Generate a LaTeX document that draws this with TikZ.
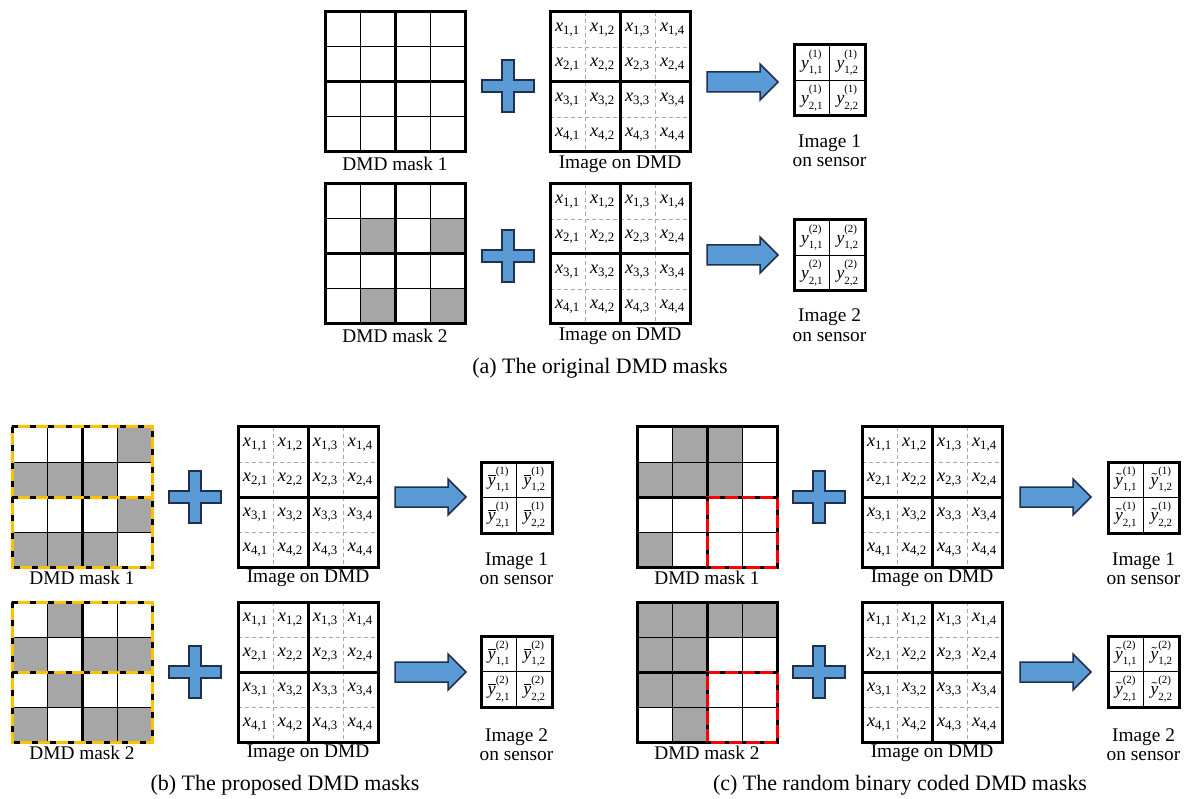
\documentclass[tikz,border=0pt]{standalone}
\usepackage{fontspec}
\setmainfont{Liberation Serif}
\definecolor{plusblue}{HTML}{5B9BD5}
\definecolor{plusedge}{HTML}{1F2F4F}
\definecolor{maskgray}{HTML}{A6A6A6}
\definecolor{ygold}{HTML}{FFC000}
\definecolor{gridgray}{HTML}{A8A8A8}
\tikzset{
  thinl/.style={line width=0.6pt, draw=black},
  thickl/.style={line width=1.8pt, draw=black, line cap=rect},
  dashl/.style={line width=0.5pt, draw=gridgray, dash pattern=on 2.4pt off 1.8pt},
  goldl/.style={line width=1.8pt, draw=ygold},
  redl/.style={line width=1.8pt, draw=red},
  blackdash/.style={line width=1.8pt, draw=black, dash pattern=on 3.6pt off 7.2pt},
  blueshape/.style={fill=plusblue, draw=plusedge, line width=0.9pt, line join=miter},
  lbl/.style={font=\fontsize{11.6}{13}\selectfont, inner sep=0pt},
  captxt/.style={font=\fontsize{13.2}{15}\selectfont, inner sep=0pt},
  xcell/.style={font=\fontsize{11}{12}\selectfont, inner sep=0pt},
  ycell/.style={font=\fontsize{10.5}{11}\selectfont, inner sep=0pt},
}
\newcommand\scr{\fontsize{6.6}{7}\selectfont}
\newcommand\ysym[4]{#1\rlap{\raisebox{0.62em}{\scr(#2)}}\raisebox{-0.32em}{\scr #3,#4}}
\newcommand\yplain{{\itshape y}}
\newcommand\ybar{$\overline{\mbox{\itshape y}}$}
\newcommand\ytil{$\tilde{\mbox{\itshape y}}$}
\newcommand\GrayCells[3]{\foreach \c/\r in {#3} {\fill[maskgray] (#1+35*\c-35,#2+35*\r-35) rectangle (#1+35*\c,#2+35*\r);}}
\newcommand\MaskLines[2]{\foreach \i in {1,3} {
    \draw[thinl] (#1+35*\i,#2) -- (#1+35*\i,#2+140);
    \draw[thinl] (#1,#2+35*\i) -- (#1+140,#2+35*\i);}}
\newcommand\MaskFrame[2]{\draw[thickl] (#1,#2) rectangle (#1+140,#2+140);
  \draw[thickl] (#1+70,#2) -- (#1+70,#2+140);
  \draw[thickl] (#1,#2+70) -- (#1+140,#2+70);}
\newcommand\GoldFrame[2]{\draw[thickl] (#1+70,#2) -- (#1+70,#2+140);
  \foreach \yy in {0,70} {\draw[goldl] (#1,#2+\yy) rectangle (#1+140,#2+\yy+70);
    \draw[blackdash] (#1,#2+\yy) rectangle (#1+140,#2+\yy+70);}}
\newcommand\RedFrame[2]{\draw[redl] (#1+70,#2+70) rectangle (#1+140,#2+140);
  \draw[blackdash, dash pattern=on 2.5pt off 8pt] (#1+70,#2+70) rectangle (#1+140,#2+140);}
\newcommand\ImgGrid[3]{\foreach \i in {1,3} {
    \draw[dashl] (#1+35*\i,#2) -- (#1+35*\i,#2+140);
    \draw[dashl] (#1,#2+35*\i) -- (#1+140,#2+35*\i);}
  \MaskFrame{#1}{#2}
  \foreach \r in {1,...,4} {\foreach \c in {1,...,4} {
    \node[xcell] (#3-\r-\c) at (#1+35*\c-17.5,#2+35*\r-17.5) {{\itshape x}\textsubscript{\r,\c}};}}}
\newcommand\Sensor[5]{\draw[thinl] (#1+35.5,#2) -- (#1+35.5,#2+71);
  \draw[thinl] (#1,#2+35.5) -- (#1+71,#2+35.5);
  \draw[thickl] (#1,#2) rectangle (#1+71,#2+71);
  \foreach \r in {1,2} {\foreach \c in {1,2} {
    \node[ycell] (#3-\r-\c) at (#1+35.5*\c-17.75,#2+35.5*\r-17.75) {\ysym{#5}{#4}{\r}{\c}};}}}
\newcommand\PlusSign[2]{\draw[blueshape] (#1-26,#2-6) -- (#1-6,#2-6) -- (#1-6,#2-26) -- (#1+6,#2-26) -- (#1+6,#2-6) -- (#1+26,#2-6) -- (#1+26,#2+6) -- (#1+6,#2+6) -- (#1+6,#2+26) -- (#1-6,#2+26) -- (#1-6,#2+6) -- (#1-26,#2+6) -- cycle;}
\newcommand\BlockArrow[2]{\draw[blueshape] (#1,#2-10) -- (#1+53,#2-10) -- (#1+53,#2-18) -- (#1+71,#2) -- (#1+53,#2+18) -- (#1+53,#2+10) -- (#1,#2+10) -- cycle;}
\begin{document}
\begin{tikzpicture}[x=0.6pt,y=-0.6pt]
\useasboundingbox (0,0) rectangle (1189,799);
\fill[white] (0,0) rectangle (1189,799);
% ---------- (a) ----------
\MaskLines{325}{12}\MaskFrame{325}{12}
\node[lbl] (am1) at (395,164) {DMD mask 1};
\PlusSign{508}{86}
\ImgGrid{550}{12}{ai1}
\node[lbl] (ai1lab) at (620,164) {Image on DMD};
\BlockArrow{707}{82}
\Sensor{794}{45}{as1}{1}{\yplain}
\node[lbl] (as1a) at (829.5,143) {Image 1};
\node[lbl] (as1b) at (829.5,162) {on sensor};
\GrayCells{325}{184}{2/2,4/2,2/4,4/4}
\MaskLines{325}{184}\MaskFrame{325}{184}
\node[lbl] (am2) at (395,336) {DMD mask 2};
\PlusSign{508}{256}
\ImgGrid{550}{184}{ai2}
\node[lbl] (ai2lab) at (620,336) {Image on DMD};
\BlockArrow{707}{255}
\Sensor{794}{220}{as2}{2}{\yplain}
\node[lbl] (as2a) at (829.5,317) {Image 2};
\node[lbl] (as2b) at (829.5,337) {on sensor};
\node[captxt] (capa) at (600,368) {(a) The original DMD masks};
% ---------- (b) ----------
\GrayCells{12}{427}{4/1,1/2,2/2,3/2,4/3,1/4,2/4,3/4}
\MaskLines{12}{427}\GoldFrame{12}{427}
\node[lbl] (bm1) at (82,578) {DMD mask 1};
\PlusSign{195}{497}
\ImgGrid{238}{427}{bi1}
\node[lbl] (bi1lab) at (308,578) {Image on DMD};
\BlockArrow{395}{497}
\Sensor{481}{462}{bs1}{1}{\ybar}
\node[lbl] (bs1a) at (516.5,561) {Image 1};
\node[lbl] (bs1b) at (516.5,580) {on sensor};
\GrayCells{12}{602}{2/1,1/2,3/2,4/2,2/3,1/4,3/4,4/4}
\MaskLines{12}{602}\GoldFrame{12}{602}
\node[lbl] (bm2) at (82,753) {DMD mask 2};
\PlusSign{195}{672}
\ImgGrid{238}{602}{bi2}
\node[lbl] (bi2lab) at (308,753) {Image on DMD};
\BlockArrow{395}{672}
\Sensor{481}{636}{bs2}{2}{\ybar}
\node[lbl] (bs2a) at (516.5,737) {Image 2};
\node[lbl] (bs2b) at (516.5,756) {on sensor};
\node[captxt] (capb) at (285,785) {(b) The proposed DMD masks};
% ---------- (c) ----------
\GrayCells{637}{427}{2/1,3/1,1/2,2/2,3/2,1/4}
\MaskLines{637}{427}\MaskFrame{637}{427}\RedFrame{637}{427}
\node[lbl] (cm1) at (707,578) {DMD mask 1};
\PlusSign{819}{497}
\ImgGrid{862}{427}{ci1}
\node[lbl] (ci1lab) at (932,578) {Image on DMD};
\BlockArrow{1020}{497}
\Sensor{1108}{462}{cs1}{1}{\ytil}
\node[lbl] (cs1a) at (1143.5,561) {Image 1};
\node[lbl] (cs1b) at (1143.5,580) {on sensor};
\GrayCells{637}{602}{1/1,2/1,3/1,4/1,1/2,2/2,1/3,2/3,2/4}
\MaskLines{637}{602}\MaskFrame{637}{602}\RedFrame{637}{602}
\node[lbl] (cm2) at (707,753) {DMD mask 2};
\PlusSign{819}{672}
\ImgGrid{862}{602}{ci2}
\node[lbl] (ci2lab) at (932,753) {Image on DMD};
\BlockArrow{1020}{672}
\Sensor{1108}{636}{cs2}{2}{\ytil}
\node[lbl] (cs2a) at (1143.5,737) {Image 2};
\node[lbl] (cs2b) at (1143.5,756) {on sensor};
\node[captxt] (capc) at (900,785) {(c) The random binary coded DMD masks};
\end{tikzpicture}
\end{document}
